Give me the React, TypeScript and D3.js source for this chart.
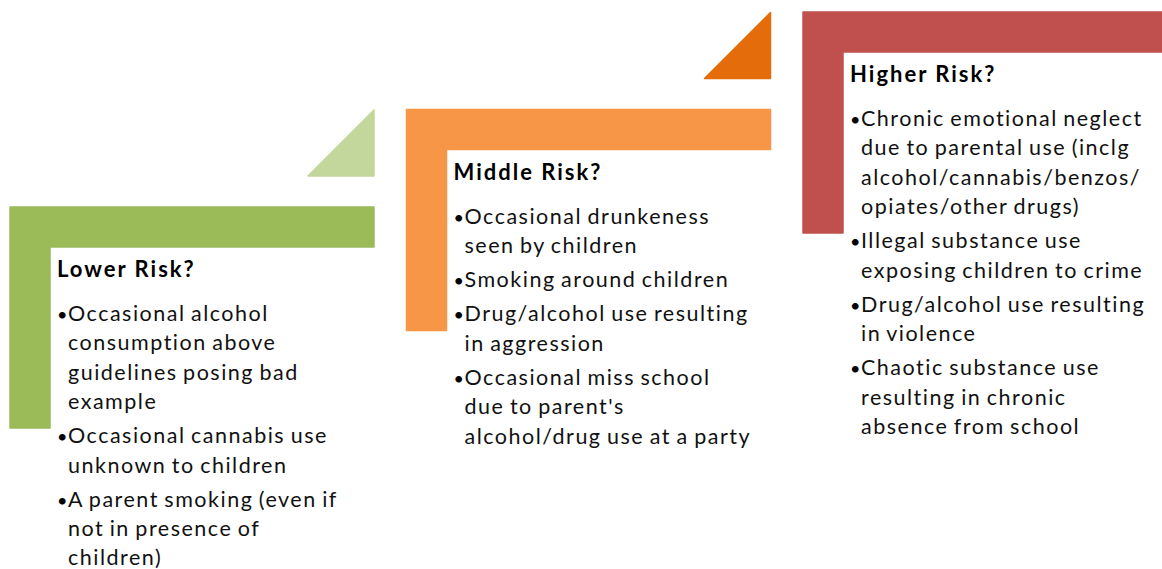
import { useEffect, useRef } from "react";
import * as d3 from "d3";

// step titles, colours and bullet text (lines wrapped as in the picture)
const titles = ["Lower Risk?", "Middle Risk?", "Higher Risk?"];
const barColors = ["#9bbb59", "#f79646", "#c0504d"];
const arrowColors = ["#c3d69b", "#e46c0a", "#953735"];

const lowerItems = [
  ["Occasional alcohol", "consumption above", "guidelines posing bad", "example"],
  ["Occasional cannabis use", "unknown to children"],
  ["A parent smoking (even if", "not in presence of", "children)"],
];
const middleItems = [
  ["Occasional drunkeness", "seen by children"],
  ["Smoking around children"],
  ["Drug/alcohol use resulting", "in aggression"],
  ["Occasional miss school", "due to parent's", "alcohol/drug use at a party"],
];
const higherItems = [
  ["Chronic emotional neglect", "due to parental use (inclg", "alcohol/cannabis/benzos/", "opiates/other drugs)"],
  ["Illegal substance use", "exposing children to crime"],
  ["Drug/alcohol use resulting", "in violence"],
  ["Chaotic substance use", "resulting in chronic", "absence from school"],
];
const items = [lowerItems, middleItems, higherItems];

export default function App() {
  const svgRef = useRef<SVGSVGElement>(null);
  const width = 1162, height = 569;

  useEffect(() => {
    const svg = d3.select(svgRef.current);
    svg.selectAll("*").remove();

    const W = 364, T = 40, H = 221, tri = 66, triGap = 31;
    const xs = d3.scaleLinear().domain([0, 2]).range([10, 803]);
    const ys = d3.scaleLinear().domain([0, 2]).range([207, 12]);
    const lineH = 29.3, paraGap = 5;
    const font = "Lato, 'Open Sans', sans-serif";

    titles.forEach((title, i) => {
      const x0 = xs(i), y0 = ys(i);
      const g = svg.append("g");

      // L shape
      const p = d3.path();
      p.moveTo(x0, y0);
      p.lineTo(x0 + W, y0);
      p.lineTo(x0 + W, y0 + T);
      p.lineTo(x0 + T, y0 + T);
      p.lineTo(x0 + T, y0 + H);
      p.lineTo(x0, y0 + H);
      p.closePath();
      g.append("path")
        .attr("d", p.toString())
        .attr("fill", barColors[i])
        .attr("stroke", barColors[i])
        .attr("stroke-width", 1.5)
        .attr("stroke-linejoin", "round");

      // little triangle
      const t = d3.path();
      t.moveTo(x0 + W, y0 - triGap - tri);
      t.lineTo(x0 + W, y0 - triGap);
      t.lineTo(x0 + W - tri, y0 - triGap);
      t.closePath();
      g.append("path")
        .attr("d", t.toString())
        .attr("fill", arrowColors[i])
        .attr("stroke", arrowColors[i])
        .attr("stroke-width", 1.5)
        .attr("stroke-linejoin", "round");

      // text
      const tx = x0 + 47, ty = y0 + 70;
      g.append("text")
        .attr("x", tx)
        .attr("y", ty)
        .attr("font-family", font)
        .attr("font-weight", "bold")
        .attr("font-size", 22)
        .attr("letter-spacing", 2)
        .attr("fill", "#000")
        .text(title);

      let y = ty + 44;
      items[i].forEach((lines) => {
        g.append("text")
          .attr("x", tx)
          .attr("y", y)
          .attr("font-family", font)
          .attr("font-size", 18)
          .attr("fill", "#000")
          .text("•");
        lines.forEach((line, k) => {
          g.append("text")
            .attr("x", tx + 11)
            .attr("y", y + k * lineH)
            .attr("font-family", font)
            .attr("font-size", 21.5)
            .attr("letter-spacing", 1.5)
            .attr("word-spacing", -1.5)
            .attr("fill", "#111")
            .text(line);
        });
        y += lines.length * lineH + paraGap;
      });
    });
  }, []);

  return (
    <div style={{ position: "absolute", left: 0, top: 0 }}>
      <svg ref={svgRef} width={width} height={height} style={{ display: "block", background: "#fff" }} />
    </div>
  );
}
